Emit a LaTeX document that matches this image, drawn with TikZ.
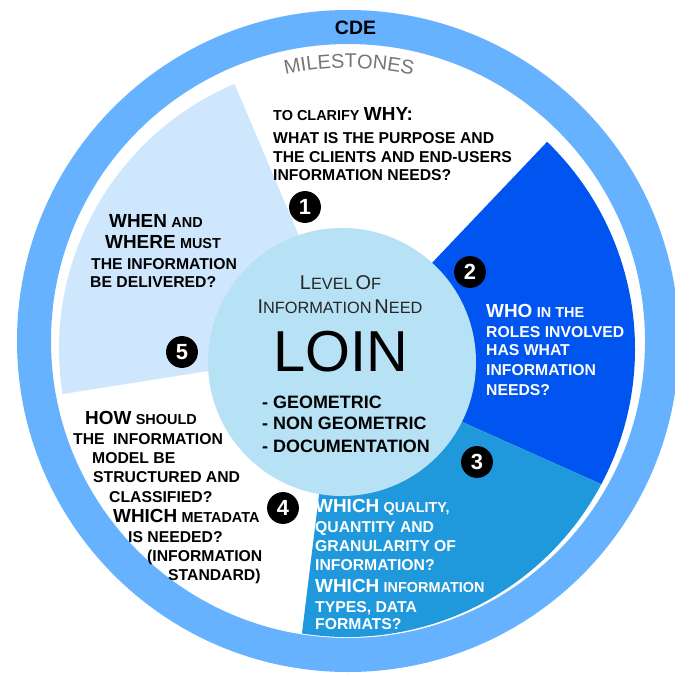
\documentclass[tikz,border=0pt]{standalone}
\usepackage{fontspec}
\setmainfont{Liberation Sans}
\usetikzlibrary{calc,decorations.text}

\definecolor{ringblue}{RGB}{102,178,255}
\definecolor{paleblue}{RGB}{206,231,252}
\definecolor{deepblue}{RGB}{0,84,240}
\definecolor{midblue}{RGB}{32,152,220}
\definecolor{coreblue}{RGB}{183,225,244}
\definecolor{msgray}{RGB}{118,118,118}

% large and small capitals inside a question line
\newcommand\lgw[1]{{\fontsize{19}{19}\selectfont #1}}
\newcommand\smw[1]{{\fontsize{14.5}{14.5}\selectfont #1}}
% small-caps style for the centre title
\newcommand\tbig[1]{{\fontsize{20}{20}\selectfont #1}}
\newcommand\tsml[1]{{\fontsize{16.4}{16.4}\selectfont #1}}

\tikzset{
  qtext/.style={inner sep=0, anchor=base west, font=\bfseries\fontsize{15.8}{15.8}\selectfont},
  darktext/.style={qtext, text=black},
  lighttext/.style={qtext, text=white},
  badge/.style={circle, fill=black, text=white, minimum size=32, inner sep=0,
                font=\bfseries\fontsize{22}{22}\selectfont},
  listtext/.style={inner sep=0, anchor=base west, font=\bfseries\fontsize{18}{18}\selectfont},
}

\begin{document}
\begin{tikzpicture}[x=1bp,y=1bp]
\useasboundingbox (0,0) rectangle (675,-677);
\fill[white] (0,0) rectangle (675,-677);

% outer CDE ring
\fill[ringblue, even odd rule] (348,-341) circle[radius=331] (348,-341) circle[radius=297];

% pie sectors
\fill[paleblue] (347,-349) -- ([shift={(113:288)}]347,-349) arc[start angle=113, end angle=189, radius=288] -- cycle;
\fill[deepblue] (335,-365) -- ([shift={(-28:288)}]347,-349) arc[start angle=-28, end angle=46, radius=288] -- cycle;
\fill[midblue] (335,-365) -- ([shift={(-99:288)}]347,-349) arc[start angle=-99, end angle=-28, radius=288] -- cycle;

% centre disc
\fill[coreblue] (342,-362) circle[radius=134];

% ring labels
\node[inner sep=0, anchor=base, font=\bfseries\fontsize{19.5}{19.5}\selectfont] (cde) at (355.5,-35) {CDE};
\path[decorate, decoration={text along path, text align=center, text color=msgray,
      text={|\fontsize{20}{20}\selectfont|MILESTONES}}]
  ([shift={(120:290)}]349,-358) arc[start angle=120, end angle=60, radius=290];

% sector 1
\node[darktext] (q1a) at (273,-120.7) {\smw{TO CLARIFY} \lgw{WHY:}};
\node[darktext] (q1b) at (273,-143.2) {WHAT IS THE PURPOSE AND};
\node[darktext] (q1c) at (273,-162.7) {THE CLIENTS AND END-USERS};
\node[darktext] (q1d) at (273,-180.2) {INFORMATION NEEDS?};

% sector 2
\node[lighttext] (q2a) at (486,-317.7) {\lgw{WHO} \smw{IN THE}};
\node[lighttext] (q2b) at (486,-337.7) {ROLES INVOLVED};
\node[lighttext] (q2c) at (486,-355.7) {HAS WHAT};
\node[lighttext] (q2d) at (486,-375.7) {INFORMATION};
\node[lighttext] (q2e) at (486,-395.7) {NEEDS?};

% sector 3
\node[lighttext] (q3a) at (315,-512.7) {\lgw{WHICH} \smw{QUALITY,}};
\node[lighttext] (q3b) at (315,-532.7) {QUANTITY AND};
\node[lighttext] (q3c) at (315,-551.7) {GRANULARITY OF};
\node[lighttext] (q3d) at (315,-570.7) {INFORMATION?};
\node[lighttext] (q3e) at (315,-592.7) {\lgw{WHICH} \smw{INFORMATION}};
\node[lighttext] (q3f) at (315,-612.7) {TYPES, DATA};
\node[lighttext] (q3g) at (315,-629.7) {FORMATS?};

% sector 4
\node[darktext] (q4a) at (85,-424.7) {\lgw{HOW} \smw{SHOULD}};
\node[darktext] (q4b) at (73,-444.7) {THE\hspace{4bp} INFORMATION};
\node[darktext] (q4c) at (92,-463.7) {MODEL BE};
\node[darktext] (q4d) at (93,-482.7) {STRUCTURED AND};
\node[darktext] (q4e) at (109,-502.7) {CLASSIFIED?};
\node[darktext] (q4f) at (113,-522.7) {\lgw{WHICH} \smw{METADATA}};
\node[darktext] (q4g) at (128,-542.7) {IS NEEDED?};
\node[darktext] (q4h) at (147,-561.7) {(INFORMATION};
\node[darktext] (q4i) at (168,-580.7) {STANDARD)};

% sector 5
\node[darktext] (q5a) at (109,-227.7) {\lgw{WHEN} \smw{AND}};
\node[darktext] (q5b) at (105,-248.7) {\lgw{WHERE} \smw{MUST}};
\node[darktext] (q5c) at (91,-269.7) {THE INFORMATION};
\node[darktext] (q5d) at (90,-287.7) {BE DELIVERED?};

% centre disc text
\node[inner sep=0, anchor=base, text=black!85] (t1) at (340.5,-289.5)
  {\tbig{L}\tsml{EVEL} \tbig{O}\tsml{F}};
\node[inner sep=0, anchor=base, text=black!85] (t2) at (340,-313.5)
  {\tbig{I}\tsml{NFORMATION} \tbig{N}\tsml{EED}};
\node[inner sep=0, anchor=base, font=\fontsize{58}{58}\selectfont] (loin) at (340.5,-371) {LOIN};
\node[listtext] (l1) at (262,-408.4) {- GEOMETRIC};
\node[listtext] (l2) at (262,-429.4) {- NON GEOMETRIC};
\node[listtext] (l3) at (262,-452.4) {- DOCUMENTATION};

% step numbers
\node[badge] (n1) at (305,-207) {1};
\node[badge] (n2) at (470,-272) {2};
\node[badge] (n3) at (477,-462) {3};
\node[badge] (n4) at (283,-508) {4};
\node[badge] (n5) at (182,-352) {5};
\end{tikzpicture}
\end{document}
